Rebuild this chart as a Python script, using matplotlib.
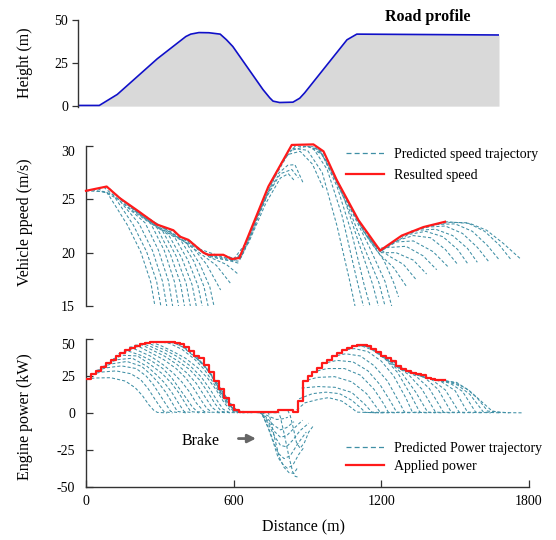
import matplotlib
matplotlib.use("Agg")
import matplotlib.pyplot as plt
from matplotlib.lines import Line2D

plt.rcParams["font.family"] = ["Liberation Serif", "DejaVu Serif"]
plt.rcParams["axes.unicode_minus"] = False

# road profile: distance (m), height (m)
road_d = [0, 91, 168, 339, 461, 482, 517, 560, 608, 635, 662, 791, 820, 834, 862, 919, 948, 969, 1150, 1192, 1800]
road_h = [0.4, 0.4, 6.8, 27.5, 40.4, 41.8, 42.7, 42.6, 41.8, 38.5, 34.6, 9.6, 4.8, 2.9, 2.1, 2.3, 4.6, 7.7, 38.5, 41.8, 41.3]

# resulted speed (m/s)
speed_d = [0, 84, 138, 206, 287, 355, 382, 416, 477, 497, 558, 592, 623, 653, 741, 836, 924, 965, 1019, 1107, 1195, 1283, 1371, 1459]
speed_v = [25.8, 26.2, 25.1, 24.0, 22.65, 22.1, 21.5, 21.2, 20.0, 19.8, 19.8, 19.4, 19.5, 21.2, 26.2, 30.1, 30.15, 29.5, 26.8, 23.05, 20.2, 21.6, 22.4, 22.9]

# predicted speed trajectories, (distance, speed) points
speed_pred_first_hill = [
    [(0, 25.8), (84, 25.7), (168, 22.6), (222, 20.1), (263, 17.25), (280, 15.0)],
    [(24, 25.9), (108, 25.5), (192, 22.6), (246, 20.1), (287, 17.3), (304, 15.0)],
    [(48, 26.0), (132, 25.0), (216, 22.7), (270, 20.2), (311, 17.3), (328, 15.0)],
    [(72, 26.15), (156, 24.5), (240, 22.8), (294, 20.25), (335, 17.35), (352, 15.0)],
    [(96, 26.0), (180, 24.1), (264, 22.7), (318, 20.2), (359, 17.3), (376, 15.0)],
    [(120, 25.5), (204, 23.8), (288, 22.35), (342, 19.9), (383, 17.2), (400, 15.0)],
    [(144, 25.0), (228, 23.45), (312, 22.0), (366, 19.7), (407, 17.1), (424, 15.0)],
    [(168, 24.5), (252, 23.05), (336, 21.65), (390, 19.45), (431, 17.0), (448, 15.0)],
    [(192, 24.2), (276, 22.65), (360, 21.45), (414, 19.3), (455, 16.9), (472, 15.0)],
    [(216, 23.85), (300, 22.35), (384, 21.2), (438, 19.2), (479, 16.85), (496, 15.0)],
    [(240, 23.45), (324, 22.15), (408, 20.9), (462, 18.95), (503, 16.8), (520, 15.0)],
    [(264, 23.05), (348, 21.9), (430, 20.6), (490, 18.9), (547, 16.5)],
    [(300, 22.55), (380, 21.35), (460, 20.0), (530, 18.8), (588, 17.1)],
    [(340, 22.2), (420, 21.0), (500, 19.6), (570, 18.9), (615, 18.05)],
    [(380, 21.55), (460, 20.2), (530, 19.5), (590, 19.2), (622, 19.0)],
]
speed_pred_valley = [
    [(420, 21.15), (500, 19.65), (580, 19.3), (622, 19.2), (650, 20.5), (690, 22.7)],
    [(460, 20.35), (540, 19.7), (600, 19.25), (640, 20.0), (700, 23.5), (730, 25.0)],
    [(500, 19.75), (580, 19.45), (630, 19.55), (680, 22.2), (740, 25.6), (780, 27.2)],
    [(560, 19.75), (610, 19.4), (660, 20.9), (730, 24.6), (790, 27.0), (822, 27.4), (845, 26.8)],
    [(600, 19.4), (650, 20.9), (720, 24.7), (790, 27.4), (836, 27.8), (863, 27.0)],
    [(640, 20.3), (700, 23.6), (770, 27.2), (820, 28.2), (849, 28.25), (883, 26.5)],
    [(690, 23.2), (760, 26.8), (820, 29.2), (870, 29.5), (920, 28.3), (965, 26.0)],
]
speed_pred_second_hill = [
    [(750, 26.6), (830, 29.8), (900, 29.6), (960, 27.5), (1020, 22.5), (1070, 17.5), (1093, 15.0)],
    [(790, 28.3), (850, 30.0), (920, 29.9), (980, 27.8), (1040, 23.5), (1100, 17.5), (1127, 15.0)],
    [(820, 29.5), (900, 30.0), (960, 29.2), (1020, 26.2), (1080, 21.8), (1130, 17.0), (1154, 15.0)],
    [(850, 30.1), (930, 30.0), (990, 28.2), (1050, 25.0), (1110, 20.8), (1165, 17.0), (1188, 15.0)],
    [(880, 30.1), (950, 29.6), (1010, 27.0), (1070, 24.0), (1130, 20.5), (1190, 17.2), (1215, 15.0)],
    [(910, 30.1), (970, 29.2), (1030, 26.2), (1090, 23.4), (1150, 20.6), (1215, 17.3), (1242, 15.0)],
]
speed_pred_last = [
    [(950, 29.7), (1010, 27.0), (1080, 23.9), (1150, 21.2), (1210, 19.3), (1250, 17.2), (1270, 15.85)],
    [(990, 28.2), (1060, 24.9), (1130, 21.9), (1195, 19.8), (1250, 18.6), (1303, 16.8)],
    [(1030, 26.3), (1100, 23.3), (1170, 20.8), (1230, 19.7), (1290, 18.9), (1344, 17.4)],
    [(1070, 24.5), (1140, 21.6), (1200, 20.0), (1260, 20.0), (1330, 19.3), (1384, 18.0)],
    [(1110, 22.9), (1180, 20.4), (1240, 20.5), (1300, 20.6), (1370, 19.7), (1425, 18.4)],
    [(1150, 21.4), (1195, 20.1), (1260, 21.0), (1330, 21.1), (1410, 20.1), (1470, 18.7)],
    [(1195, 20.1), (1260, 21.1), (1330, 21.6), (1400, 21.4), (1460, 20.3), (1510, 18.9)],
    [(1240, 20.8), (1310, 21.7), (1380, 22.0), (1450, 21.5), (1510, 20.3), (1550, 19.0)],
    [(1280, 21.5), (1350, 22.1), (1420, 22.2), (1490, 21.6), (1550, 20.4), (1590, 19.1)],
    [(1320, 22.0), (1390, 22.4), (1460, 22.5), (1530, 21.8), (1590, 20.5), (1635, 19.2)],
    [(1360, 22.3), (1430, 22.65), (1500, 22.7), (1570, 22.0), (1630, 20.7), (1680, 19.3)],
    [(1410, 22.6), (1480, 22.85), (1550, 22.8), (1620, 22.0), (1680, 20.7), (1725, 19.4)],
    [(1459, 22.9), (1560, 22.74), (1628, 22.1), (1696, 20.86), (1764, 19.45)],
]

# applied engine power (kW), one value per 20 m step
power_step_d = list(range(0, 1460, 20))
power_step_kw = [
    23.0, 26.0, 28.5, 31.0, 33.5, 36.0, 38.3, 40.5, 42.5, 44.0, 45.5, 46.5, 47.5, 48.0, 48.3, 48.3, 48.3, 48.0,
    47.4, 46.3, 44.4, 41.6, 38.8, 36.9, 32.2, 27.6, 21.7, 15.9, 10.1, 5.4, 1.9, 0.8,
    0.8, 0.8, 0.8, 0.8, 0.8, 0.8, 0.8, 1.8, 1.8, 1.8, 0.8,
    8.0, 21.5, 24.8, 27.8, 30.1, 33.6, 36.0, 38.3, 40.7, 42.5, 44.2, 45.3, 45.8, 45.8, 45.3, 43.5,
    41.1, 38.8, 37.2, 34.8, 31.8, 29.7, 28.5, 27.1, 26.3, 25.5, 23.8, 22.7, 22.4, 22.4,
]

# predicted power trajectories, (distance, power) points
power_pred_first = [
    [(0, 23.0), (40, 23.6), (100, 23.8), (160, 21.5), (200, 17.0), (230, 11.5), (255, 5.5), (275, 1.8), (290, 0.3), (330, 0)],
    [(22, 26.2), (62, 27.6), (122, 28.4), (182, 26.5), (222, 22.5), (252, 16.5), (277, 10.0), (297, 5.0), (317, 0.8), (352, 0)],
    [(44, 28.8), (84, 30.5), (144, 31.8), (204, 30.0), (244, 25.0), (274, 19.0), (299, 12.5), (324, 6.0), (344, 1.0), (379, 0)],
    [(66, 31.3), (106, 33.2), (166, 34.8), (226, 31.5), (266, 25.5), (296, 20.0), (326, 13.5), (351, 6.5), (371, 1.0), (406, 0)],
    [(88, 33.6), (128, 36.0), (188, 37.0), (248, 31.5), (288, 25.5), (318, 20.5), (348, 14.0), (378, 6.0), (398, 1.0), (433, 0)],
    [(110, 36.5), (150, 39.0), (210, 38.5), (263, 32.5), (310, 26.5), (345, 20.5), (375, 14.0), (405, 6.0), (425, 1.0), (460, 0)],
    [(132, 40.0), (172, 41.8), (222, 39.0), (263, 35.5), (312, 30.0), (347, 24.0), (377, 17.0), (407, 10.0), (432, 4.0), (452, 0.8), (487, 0)],
    [(154, 42.3), (194, 43.5), (263, 38.3), (314, 32.5), (354, 27.0), (389, 21.0), (419, 14.5), (449, 6.5), (479, 1.0), (514, 0)],
    [(176, 44.5), (216, 44.8), (263, 40.7), (316, 36.0), (366, 30.0), (406, 23.5), (436, 17.0), (466, 9.0), (491, 3.0), (511, 0.5), (546, 0)],
    [(198, 45.8), (228, 46.0), (263, 43.0), (318, 38.5), (368, 33.0), (413, 26.5), (448, 20.0), (483, 11.0), (513, 3.5), (538, 0.5), (573, 0)],
    [(220, 46.5), (240, 46.3), (263, 44.9), (320, 40.5), (370, 35.5), (420, 29.5), (460, 22.5), (495, 14.0), (525, 6.0), (550, 1.0), (585, 0)],
    [(242, 47.5), (263, 46.5), (322, 42.5), (372, 38.0), (422, 32.0), (467, 24.5), (502, 16.5), (532, 8.5), (557, 2.5), (582, 0.3), (617, 0)],
    [(264, 48.0), (304, 45.5), (354, 41.5), (404, 37.0), (454, 30.5), (494, 23.5), (529, 15.5), (559, 7.5), (584, 2.0), (609, 0.3), (644, 0)],
    [(290, 48.3), (340, 47.0), (390, 43.0), (440, 36.5), (480, 29.5), (515, 21.0), (545, 13.0), (575, 5.5), (600, 1.0), (630, 0)],
    [(320, 48.3), (360, 47.2), (400, 44.0), (440, 38.5), (480, 31.5), (510, 25.5), (540, 15.5), (570, 8.5), (595, 3.0), (620, 0.6), (660, 0)],
    [(350, 47.8), (390, 45.0), (430, 39.5), (470, 34.0), (500, 28.0), (525, 21.0), (550, 14.0), (575, 8.0), (600, 1.8), (630, 0.6), (680, 0)],
    [(400, 44.4), (440, 38.6), (480, 32.0), (505, 26.5), (530, 20.5), (555, 14.0), (580, 8.0), (600, 1.8), (630, 0.5), (740, 0)],
    [(450, 38.0), (480, 32.1), (505, 27.0), (530, 21.0), (550, 15.5), (575, 9.5), (598, 4.0), (625, 0.6), (700, 0.3), (780, 0)],
]
power_pred_brake = [
    [(500, 27.4), (530, 19.5), (560, 9.8), (590, 4.0), (620, 0.7), (680, 0.3), (715, 0), (745, -2.5), (775, -4.5), (800, -4.0), (820, -3.0)],
    [(540, 15.7), (570, 9.5), (600, 1.7), (640, 0.5), (705, 0.2), (730, -2.5), (760, -8.0), (790, -11.5), (815, -10.0), (845, -6.0)],
    [(580, 5.3), (610, 1.6), (660, 0.5), (710, 0.2), (735, -4.5), (765, -12.5), (790, -16.5), (815, -15.5), (845, -10.5), (880, -5.0)],
    [(620, 0.7), (710, 0.2), (738, -6.5), (765, -15.5), (790, -22.0), (815, -23.0), (840, -18.5), (870, -12.0), (905, -7.0)],
    [(660, 0.7), (712, 0.1), (740, -9.5), (762, -19.5), (782, -27.5), (805, -31.0), (830, -29.0), (860, -21.0), (895, -13.0)],
    [(700, 0.7), (714, 0), (741, -10.7), (761, -20.0), (781, -30.5), (802, -35.2), (818, -37.5), (840, -35.5), (865, -28.0), (885, -23.5)],
    [(740, 0.7), (748, -3.5), (765, -16.0), (785, -30.0), (805, -37.0), (825, -40.5), (845, -41.0), (862, -36.5)],
    [(780, 1.7), (790, -3.0), (805, -14.0), (825, -30.0), (840, -40.0), (850, -43.0), (862, -43.5)],
    [(820, 1.7), (830, -2.0), (842, -10.0), (855, -20.0), (870, -24.0), (888, -20.0), (905, -13.0), (925, -8.5)],
]
power_pred_second = [
    [(856, 2.0), (890, 6.8), (944, 9.1), (985, 10.3), (1039, 8.0), (1080, 3.3), (1100, 0.5), (1190, 0)],
    [(866, 9.5), (920, 13.0), (975, 14.0), (1030, 13.0), (1080, 8.5), (1115, 3.5), (1135, 0.3), (1210, 0)],
    [(876, 16.8), (944, 17.8), (1012, 17.3), (1080, 13.8), (1134, 5.6), (1161, 0.5), (1230, 0)],
    [(880, 21.3), (940, 24.0), (1010, 24.5), (1080, 21.0), (1140, 13.0), (1175, 5.0), (1195, 0.5), (1260, 0)],
    [(920, 27.6), (980, 30.0), (1050, 30.0), (1115, 25.5), (1170, 16.0), (1210, 6.0), (1228, 0.5), (1290, 0)],
    [(960, 33.4), (1020, 35.5), (1085, 34.5), (1145, 28.5), (1195, 19.0), (1240, 7.0), (1262, 0.5), (1325, 0)],
    [(1000, 38.1), (1055, 40.0), (1115, 38.5), (1170, 32.0), (1225, 21.5), (1270, 8.0), (1294, 0.5), (1355, 0)],
    [(1040, 42.3), (1090, 43.5), (1145, 41.5), (1200, 35.0), (1250, 25.0), (1300, 10.0), (1326, 0.5), (1390, 0)],
    [(1080, 45.1), (1120, 45.3), (1165, 42.5), (1215, 36.5), (1265, 27.5), (1320, 12.0), (1356, 0.5), (1420, 0)],
    [(1110, 45.6), (1150, 44.5), (1190, 40.0), (1235, 34.0), (1285, 26.5), (1340, 14.0), (1388, 0.5), (1450, 0)],
    [(1140, 45.1), (1175, 42.5), (1215, 37.0), (1260, 31.5), (1310, 26.0), (1365, 16.0), (1420, 0.5), (1480, 0)],
    [(1170, 43.3), (1205, 38.5), (1245, 34.0), (1290, 29.0), (1340, 25.0), (1395, 16.5), (1452, 0.5), (1510, 0)],
    [(1200, 38.6), (1240, 34.6), (1280, 29.5), (1325, 26.8), (1375, 24.0), (1430, 16.0), (1484, 0.5), (1540, 0)],
    [(1235, 37.0), (1270, 31.5), (1310, 28.3), (1355, 26.0), (1405, 22.5), (1460, 15.5), (1516, 0.5), (1575, 0)],
    [(1265, 31.6), (1300, 28.3), (1345, 26.1), (1395, 23.6), (1445, 21.0), (1500, 15.0), (1550, 0.5), (1610, 0)],
    [(1300, 28.3), (1340, 26.1), (1385, 23.6), (1430, 22.2), (1480, 20.0), (1530, 14.5), (1583, 0.5), (1645, 0)],
    [(1340, 26.1), (1380, 23.6), (1420, 22.2), (1465, 21.3), (1510, 18.8), (1560, 12.5), (1615, 0.5), (1680, 0)],
    [(1380, 23.6), (1420, 22.2), (1460, 21.6), (1500, 20.3), (1545, 16.5), (1590, 10.0), (1632, 1.2), (1720, 0)],
    [(1440, 22.2), (1506, 20.6), (1560, 14.7), (1614, 6.6), (1649, 1.4), (1680, 0.2), (1777, 0)],
]

TEAL = "#3f8fa5"
RED = "#ff1a1a"
BLUE = "#1010c8"
AXIS = "#333333"
DASH = (0, (3, 2))


def draw_predictions(ax, groups):
    for group in groups:
        for traj in group:
            xs = [p[0] for p in traj]
            ys = [p[1] for p in traj]
            ax.plot(xs, ys, color=TEAL, lw=0.75, linestyle=DASH, zorder=2)


def style_left_only(ax):
    for side in ("top", "right", "bottom"):
        ax.spines[side].set_visible(False)
    ax.spines["left"].set_color(AXIS)
    ax.spines["left"].set_linewidth(1.0)
    ax.set_xticks([])


fig = plt.figure(figsize=(5.56, 5.40), dpi=100)
W, H = 556.0, 540.0

# road profile
ax_road = fig.add_axes([78 / W, 1 - 107 / H, 421 / W, 87 / H])
ax_road.fill_between(road_d, road_h, 0, color="#d9d9d9", lw=0)
ax_road.plot(road_d, road_h, color=BLUE, lw=1.2)
ax_road.set_xlim(0, 1800)
ax_road.set_ylim(-0.5, 50)
style_left_only(ax_road)
ax_road.set_yticks([0, 25, 50])
ax_road.tick_params(axis="y", direction="out", length=4, width=0.9, color=AXIS, labelsize=10, pad=3)

# vehicle speed
ax_speed = fig.add_axes([86 / W, 1 - 306 / H, 443 / W, 160 / H])
draw_predictions(ax_speed, [speed_pred_first_hill, speed_pred_valley, speed_pred_second_hill, speed_pred_last])
ax_speed.plot(speed_d, speed_v, color=RED, lw=1.6, zorder=3, clip_on=False)
ax_speed.set_xlim(0, 1800)
ax_speed.set_ylim(15, 30)
style_left_only(ax_speed)
ax_speed.set_yticks([15, 20, 25, 30])
ax_speed.tick_params(axis="y", direction="in", length=5, width=0.9, color=AXIS, labelsize=10, pad=8)
ax_speed.get_yticklabels()[-1].set_va("top")

# engine power
ax_power = fig.add_axes([86 / W, 1 - 486.7 / H, 443 / W, 147.7 / H])
draw_predictions(ax_power, [power_pred_first, power_pred_brake, power_pred_second])
ax_power.plot(power_step_d + [1460], power_step_kw + [power_step_kw[-1]], color=RED, lw=1.6,
              drawstyle="steps-post", zorder=3)
ax_power.set_xlim(0, 1800)
ax_power.set_ylim(-50, 50)
for side in ("top", "right"):
    ax_power.spines[side].set_visible(False)
for side in ("left", "bottom"):
    ax_power.spines[side].set_color(AXIS)
    ax_power.spines[side].set_linewidth(1.0)
ax_power.set_yticks([-50, -25, 0, 25, 50])
ax_power.set_xticks([0, 600, 1200, 1800])
ax_power.tick_params(axis="y", direction="in", length=5, width=0.9, color=AXIS, labelsize=10, pad=8)
ax_power.tick_params(axis="x", direction="in", length=5, width=0.9, color=AXIS, labelsize=10, pad=6)
ax_power.get_yticklabels()[-1].set_va("top")

ax_power.annotate("", xy=(702, -17.4), xytext=(608, -17.4),
                  arrowprops=dict(arrowstyle="-|>", color="#666666", lw=2.0, mutation_scale=12))
ax_power.text(467, -19, "Brake", fontsize=11.5, ha="center", va="center")

# legends
speed_handles = [Line2D([], [], color=TEAL, lw=0.9, linestyle=(0, (4, 2.5))),
                 Line2D([], [], color=RED, lw=1.6)]
ax_speed.legend(speed_handles, ["Predicted speed trajectory", "Resulted speed"],
                loc="upper left", bbox_to_anchor=(346 / W, 1 - 148 / H), bbox_transform=fig.transFigure,
                frameon=False, borderpad=0, borderaxespad=0, handlelength=2.7, handletextpad=0.75,
                labelspacing=0.55, fontsize=10)
power_handles = [Line2D([], [], color=TEAL, lw=0.9, linestyle=(0, (4, 2.5))),
                 Line2D([], [], color=RED, lw=1.6)]
ax_power.legend(power_handles, ["Predicted Power trajectory", "Applied power"],
                loc="upper left", bbox_to_anchor=(346 / W, 1 - 442 / H), bbox_transform=fig.transFigure,
                frameon=False, borderpad=0, borderaxespad=0, handlelength=2.7, handletextpad=0.75,
                labelspacing=0.33, fontsize=10)

# labels
fig.text(25 / W, 1 - 63 / H, "Height (m)", rotation=90, ha="center", va="center", fontsize=11.5)
fig.text(25 / W, 1 - 222 / H, "Vehicle ppeed (m/s)", rotation=90, ha="center", va="center", fontsize=11.5)
fig.text(25 / W, 1 - 417 / H, "Engine power (kW)", rotation=90, ha="center", va="center", fontsize=11.5)
fig.text(304 / W, 1 - 527 / H, "Distance (m)", ha="center", va="center", fontsize=11.5)
fig.text(428 / W, 1 - 17 / H, "Road profile", ha="center", va="center", fontsize=11.5, fontweight="bold")

fig.savefig("out.png", dpi=100)
